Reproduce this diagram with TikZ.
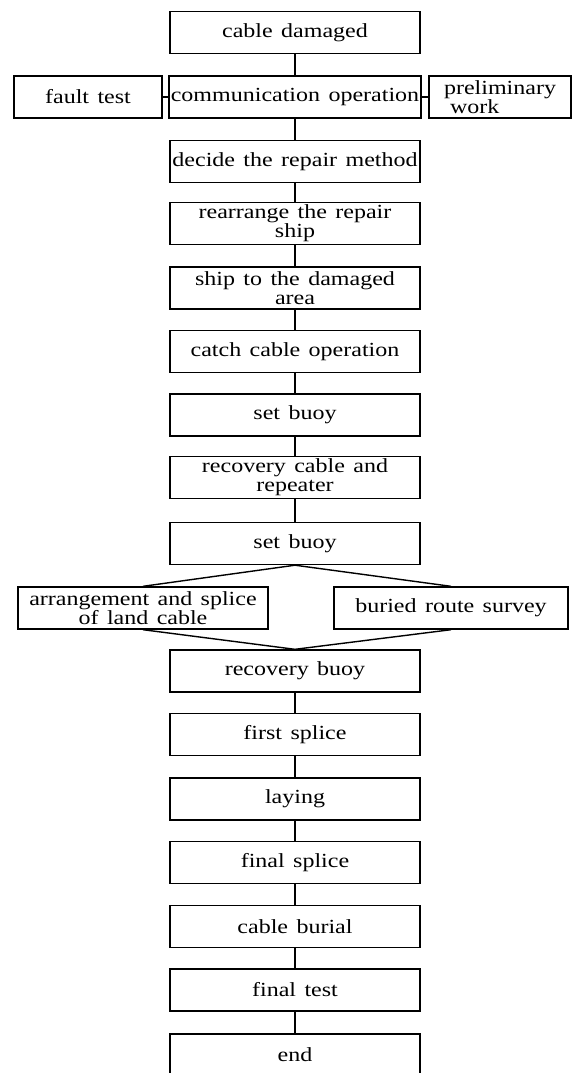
\documentclass[tikz,border=0pt]{standalone}
\usepackage{fontspec}
\setmainfont{Liberation Serif}[FakeStretch=1.2,WordSpace=1.4]
\usepackage{tikz}
\usetikzlibrary{positioning}

\begin{document}
\begin{tikzpicture}[x=0.5pt, y=-0.5pt,
  box/.style={draw, line width=0.7pt, minimum width=125pt, minimum height=21pt,
    inner sep=1pt, align=center, font={\fontsize{10}{9.5}\selectfont}},
  link/.style={line width=0.7pt}]
\clip (0,0) rectangle (572,1073);

% --- main column ---
\node[box] (dmg)     at (295,32.5)  {cable damaged};
\node[box] (comm)    at (295,97)    {communication operation};
\node[box] (decide)  at (295,161.5) {decide the repair method};
\node[box] (rearr)   at (295,223.5) {rearrange the repair\\ship};
\node[box] (toarea)  at (295,288)   {ship to the damaged\\area};
\node[box] (catch)   at (295,351.5) {catch cable operation};
\node[box] (buoyA)   at (295,415)   {set buoy};
\node[box] (recov)   at (295,477.5) {recovery cable and\\repeater};
\node[box] (buoyB)   at (295,543.5) {set buoy};
\node[box] (recbuoy) at (295,671)   {recovery buoy};
\node[box] (splA)    at (295,734.5) {first splice};
\node[box] (laying)  at (295,799)   {laying};
\node[box] (splB)    at (295,862.5) {final splice};
\node[box] (burial)  at (295,926.5) {cable burial};
\node[box] (ftest)   at (295,990)   {final test};
\node[box] (fin)     at (295,1055)  {end};

% --- side boxes ---
\node[box, minimum width=74pt] (fault)  at (88,97)  {fault test};
\node[box, minimum width=71pt, align=left] (prelim) at (500,97) {preliminary\\\hspace{3pt}work};
\node[box] (land) at (143,608) {arrangement and splice\\of land cable};
\node[box, minimum width=117pt] (survey) at (451,608) {buried route survey};

% --- connectors ---
\draw[link] (dmg) -- (comm);
\draw[link] (fault) -- (comm);
\draw[link] (comm) -- (prelim);
\draw[link] (comm) -- (decide);
\draw[link] (decide) -- (rearr);
\draw[link] (rearr) -- (toarea);
\draw[link] (toarea) -- (catch);
\draw[link] (catch) -- (buoyA);
\draw[link] (buoyA) -- (recov);
\draw[link] (recov) -- (buoyB);
\draw[link] (buoyB.south) -- (land.north);
\draw[link] (buoyB.south) -- (survey.north);
\draw[link] (land.south) -- (recbuoy.north);
\draw[link] (survey.south) -- (recbuoy.north);
\draw[link] (recbuoy) -- (splA);
\draw[link] (splA) -- (laying);
\draw[link] (laying) -- (splB);
\draw[link] (splB) -- (burial);
\draw[link] (burial) -- (ftest);
\draw[link] (ftest) -- (fin);
\end{tikzpicture}
\end{document}
